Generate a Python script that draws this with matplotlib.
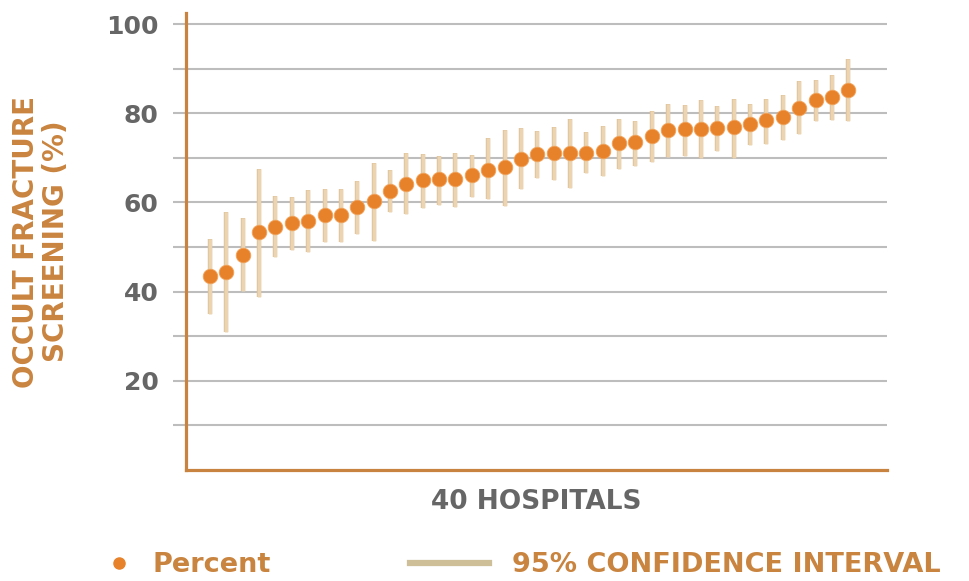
import numpy as np
import matplotlib
matplotlib.use('Agg')
import matplotlib.pyplot as plt
from matplotlib.lines import Line2D
import matplotlib.patheffects as pe

# hospital screening percentages, sorted, with 95% CI bounds
hospitals = np.arange(1, 41)
percent = [43.5, 44.5, 48.2, 53.3, 54.6, 55.5, 55.9, 57.2, 57.2, 59.0,
           60.4, 62.6, 64.2, 65.0, 65.2, 65.2, 66.1, 67.3, 67.9, 69.7,
           70.9, 71.1, 71.1, 71.2, 71.6, 73.4, 73.5, 74.9, 76.2, 76.4,
           76.4, 76.8, 76.9, 77.7, 78.4, 79.1, 81.3, 83.0, 83.6, 85.3]
ci_upper = [51.7, 57.9, 56.6, 67.5, 61.5, 61.3, 62.9, 63.0, 63.0, 64.8,
            68.9, 67.3, 71.1, 70.8, 70.5, 71.0, 70.6, 74.4, 76.2, 76.8,
            76.1, 77.0, 78.7, 75.7, 77.2, 78.8, 78.3, 80.5, 82.2, 81.8,
            83.0, 81.7, 83.2, 82.2, 83.2, 84.2, 87.3, 87.4, 88.7, 92.2]
ci_lower = [35.1, 31.0, 40.1, 38.7, 47.8, 49.3, 48.9, 51.1, 51.1, 52.9,
            51.4, 57.9, 57.4, 58.7, 59.4, 59.0, 61.3, 60.7, 59.3, 63.1,
            65.4, 65.0, 63.2, 66.7, 65.9, 67.6, 68.2, 69.1, 70.1, 70.4,
            69.9, 71.6, 70.0, 73.0, 73.1, 74.1, 75.3, 78.3, 78.6, 78.3]

ORANGE = '#e8822a'
SPINE = '#c98340'
TEXT_OR = '#c9843f'
GRAY = '#666666'
GRID = '#bdbdbd'
BAR = '#ecd4b0'

plt.rcParams['font.family'] = 'DejaVu Sans'

fig = plt.figure(figsize=(9.69, 5.81), dpi=100)
ax = fig.add_axes([185.7/969, 1-470/581, (886.7-185.7)/969, (470-13)/581])

pct = np.array(percent)
yerr = [pct - np.array(ci_lower), np.array(ci_upper) - pct]
eb = ax.errorbar(hospitals, pct, yerr=yerr, fmt='none', ecolor=BAR,
                 elinewidth=2.4, capsize=0, zorder=3)
for c in eb[2]:
    c.set_path_effects([pe.Stroke(linewidth=3.2, foreground='#dfc59e'), pe.Normal()])
ax.plot(hospitals, pct, 'o', color=ORANGE, markersize=10.5,
        markeredgecolor='#f0a35a', markeredgewidth=0.6, zorder=4)

ax.set_xlim(-0.485, 42.35)
ax.set_ylim(0, 102.5)
ax.set_yticks(np.arange(10, 101, 10))
ax.set_yticklabels(['' if v % 20 else str(v) for v in range(10, 101, 10)])
ax.set_xticks([])
ax.grid(axis='y', color=GRID, linewidth=1.5, zorder=0)
ax.set_axisbelow(True)
ax.tick_params(axis='y', length=9.5, width=1.5, color=GRID, pad=10,
               labelsize=18, labelcolor=GRAY)
for t in ax.get_yticklabels():
    t.set_fontweight('bold')

for s in ['top', 'right']:
    ax.spines[s].set_visible(False)
for s in ['left', 'bottom']:
    ax.spines[s].set_color(SPINE)
    ax.spines[s].set_linewidth(2.3)
    ax.spines[s].set_zorder(5)

ax.set_xlabel('40 HOSPITALS', fontsize=19, fontweight='bold', color=GRAY, labelpad=14)
ax.set_ylabel('OCCULT FRACTURE\nSCREENING (%)', fontsize=20, fontweight='bold',
              color=TEXT_OR, labelpad=26, linespacing=1.1)

# legend below chart
h1 = Line2D([], [], marker='o', linestyle='', color=ORANGE, markersize=8)
h2 = Line2D([], [], color='#cfbf98', linewidth=4.5)
leg1 = fig.legend([h1], ['Percent'], loc='center left', bbox_to_anchor=(105/969, 1-565/581),
                  frameon=False, fontsize=19.5, handlelength=1.0, handletextpad=0.75,
                  borderpad=0, borderaxespad=0)
leg2 = fig.legend([h2], ['95% CONFIDENCE INTERVAL'], loc='center left',
                  bbox_to_anchor=(410/969, 1-565/581), frameon=False, fontsize=19.5,
                  handlelength=2.9, handletextpad=0.85, borderpad=0, borderaxespad=0)
for lg in (leg1, leg2):
    for t in lg.get_texts():
        t.set_color(TEXT_OR)
        t.set_fontweight('bold')

fig.savefig('out.png', dpi=100)
